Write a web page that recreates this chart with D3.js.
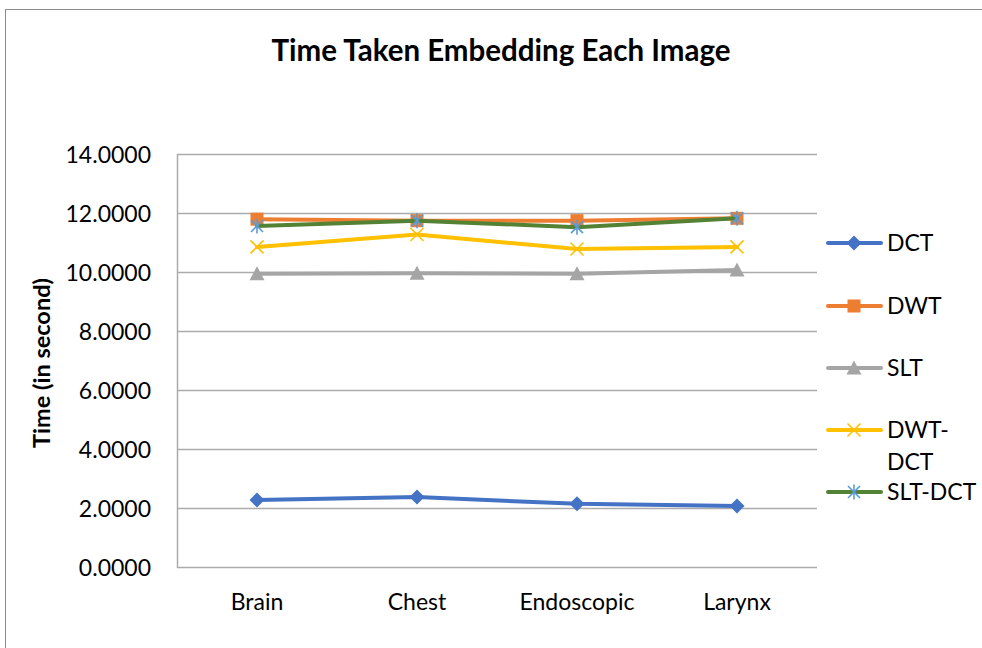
<!DOCTYPE html>
<html>
<head>
<meta charset="utf-8">
<script src="https://cdn.jsdelivr.net/npm/d3@7"></script>
<style>
  body { margin: 0; background: #fff; }
  svg { font-family: Lato, "Open Sans", sans-serif; }
</style>
</head>
<body>
<svg width="982" height="648"></svg>
<script>
const categories = ["Brain", "Chest", "Endoscopic", "Larynx"]
const dct = [2.27, 2.37, 2.14, 2.07]
const dwt = [11.79, 11.74, 11.74, 11.82]
const slt = [9.94, 9.96, 9.94, 10.07]
const dwtDct = [10.85, 11.27, 10.78, 10.85]
const sltDct = [11.56, 11.74, 11.52, 11.82]
const yTicks = [0, 2, 4, 6, 8, 10, 12, 14]

const series = [
    { name: "DCT", label: ["DCT"], values: dct, color: "#4472C4", marker: "diamond", mcolor: "#4472C4" },
    { name: "DWT", label: ["DWT"], values: dwt, color: "#ED7D31", marker: "square", mcolor: "#ED7D31" },
    { name: "SLT", label: ["SLT"], values: slt, color: "#A5A5A5", marker: "triangle", mcolor: "#A5A5A5" },
    { name: "DWT-DCT", label: ["DWT-", "DCT"], values: dwtDct, color: "#FFC000", marker: "x", mcolor: "#FFC000" },
    { name: "SLT-DCT", label: ["SLT-DCT"], values: sltDct, color: "#548235", marker: "star", mcolor: "#5B9BD5" }
]

const svg = d3.select("svg")
const margin = { left: 177, right: 817, top: 154, bottom: 567 }

// chart frame
svg.append("rect")
    .attr("x", 5.5).attr("y", 9.5)
    .attr("width", 1000).attr("height", 660)
    .attr("fill", "none").attr("stroke", "#8c8c8c").attr("stroke-width", 1)

svg.append("text")
    .attr("x", 501).attr("y", 61)
    .attr("text-anchor", "middle")
    .attr("font-size", 29.5).attr("font-weight", "bold")
    .text("Time Taken Embedding Each Image")

const x = d3.scaleBand().domain(categories).range([margin.left, margin.right])
const y = d3.scaleLinear().domain([0, 14]).range([margin.bottom, margin.top])

// gridlines
svg.append("g")
    .selectAll("line")
    .data(yTicks)
    .join("line")
    .attr("x1", margin.left).attr("x2", margin.right)
    .attr("y1", d => Math.round(y(d)) + 0.5).attr("y2", d => Math.round(y(d)) + 0.5)
    .attr("stroke", "#ababab").attr("stroke-width", 1.5)

// left axis line
svg.append("line")
    .attr("x1", margin.left + 0.5).attr("x2", margin.left + 0.5)
    .attr("y1", margin.top).attr("y2", margin.bottom + 1)
    .attr("stroke", "#ababab").attr("stroke-width", 1.5)

const yAxis = svg.append("g")
    .attr("transform", "translate(" + (margin.left - 26) + ",0)")
    .call(d3.axisLeft(y).tickValues(yTicks).tickSize(0).tickFormat(d3.format(".4f")))
yAxis.select(".domain").remove()
yAxis.selectAll("text")
    .attr("font-size", 23).attr("fill", "#000")
    .attr("font-family", "Lato, sans-serif")
    .attr("dy", "0.36em").attr("x", 0)

const xAxis = svg.append("g")
    .attr("transform", "translate(0," + (margin.bottom + 43) + ")")
    .call(d3.axisBottom(x).tickSize(0))
xAxis.select(".domain").remove()
xAxis.selectAll("text")
    .attr("font-size", 23).attr("fill", "#000")
    .attr("font-family", "Lato, sans-serif")
    .attr("y", 0).attr("dy", 0)

svg.append("text")
    .attr("transform", "translate(50," + 363 + ") rotate(-90)")
    .attr("text-anchor", "middle")
    .attr("font-size", 23.5).attr("font-weight", "bold")
    .text("Time (in second)")

function drawMarker(g, type, color) {
    if (type === "diamond") {
        g.append("path").attr("d", "M0,-7.5L7.5,0L0,7.5L-7.5,0Z").attr("fill", color)
    } else if (type === "square") {
        g.append("rect").attr("x", -6.5).attr("y", -6.5).attr("width", 13).attr("height", 13).attr("fill", color)
    } else if (type === "triangle") {
        g.append("path").attr("d", "M0,-7.5L7.5,6.5L-7.5,6.5Z").attr("fill", color)
    } else if (type === "x") {
        g.append("path").attr("d", "M-6.5,-6.5L6.5,6.5M-6.5,6.5L6.5,-6.5").attr("stroke", color).attr("stroke-width", 1.6)
    } else if (type === "star") {
        g.append("path").attr("d", "M-6,-6L6,6M-6,6L6,-6M0,-7.5L0,7.5").attr("stroke", color).attr("stroke-width", 1.6)
    }
}

const line = d3.line()
    .x((d, i) => x(categories[i]) + x.bandwidth() / 2)
    .y(d => y(d))

series.forEach(s => {
    svg.append("path")
        .datum(s.values)
        .attr("d", line)
        .attr("fill", "none")
        .attr("stroke", s.color)
        .attr("stroke-width", 4)
        .attr("stroke-linejoin", "round")
        .attr("stroke-linecap", "round")
    s.values.forEach((v, i) => {
        const g = svg.append("g")
            .attr("transform", "translate(" + (x(categories[i]) + x.bandwidth() / 2) + "," + y(v) + ")")
        drawMarker(g, s.marker, s.mcolor)
    })
})

// legend
const legendY = [243, 306, 368, 430, 492]
series.forEach((s, i) => {
    const ly = legendY[i]
    svg.append("line")
        .attr("x1", 828).attr("x2", 881)
        .attr("y1", ly).attr("y2", ly)
        .attr("stroke", s.color).attr("stroke-width", 4)
        .attr("stroke-linecap", "round")
    const g = svg.append("g").attr("transform", "translate(854," + ly + ")")
    drawMarker(g, s.marker, s.mcolor)
    s.label.forEach((t, j) => {
        svg.append("text")
            .attr("x", 887).attr("y", ly + j * 32)
            .attr("dy", "0.36em")
            .attr("font-size", 23)
            .text(t)
    })
})
</script>
</body>
</html>
